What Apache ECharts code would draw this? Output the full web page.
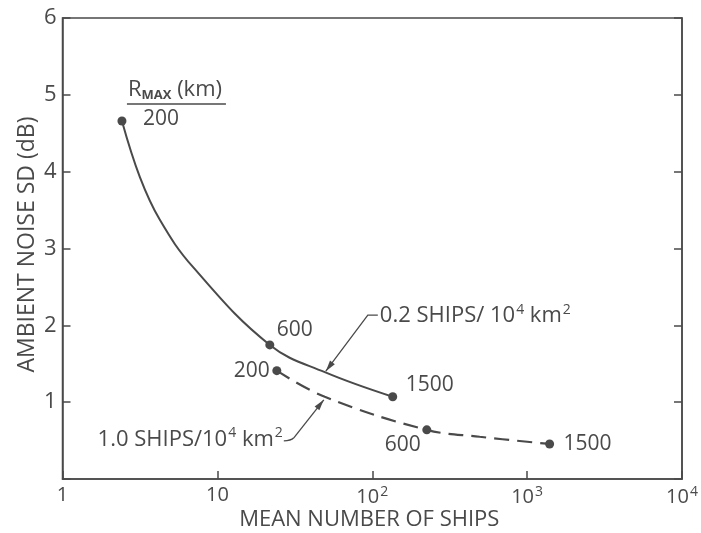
<!DOCTYPE html>
<html>
<head>
<meta charset="utf-8">
<script src="https://cdn.jsdelivr.net/npm/echarts@6/dist/echarts.min.js"></script>
<style>
  html, body { margin: 0; padding: 0; background: #fff; }
  #chart { width: 701px; height: 533px; }
</style>
</head>
<body>
<div id="chart"></div>
<script>
// Maximum range R_MAX (km) for each plotted point
const rmaxLabels = ['200', '600', '1500'];

// 0.2 ships / 10^4 km^2 (solid curve)
const lowDensityShips = [2.42, 21.8, 135.6];
const lowDensitySD = [4.66, 1.745, 1.07];
const lowCurveShips = [2.42, 3.16, 4.26, 6.95, 21.8, 49.4, 135.6];
const lowCurveSD = [4.66, 3.93, 3.37, 2.76, 1.745, 1.39, 1.07];

// 1.0 ships / 10^4 km^2 (dashed curve)
const highDensityShips = [24.2, 225, 1397];
const highDensitySD = [1.41, 0.64, 0.456];
const highCurveShips = [24.2, 49.4, 225, 494, 1397];
const highCurveSD = [1.41, 1.07, 0.64, 0.55, 0.456];

// Axis tick labels and titles
const xTickValues = [1, 10, 100, 1000, 10000];
const xTickLabels = ['{b|1}', '{b|10}', '{b|10}{s|2}', '{b|10}{s|3}', '{b|10}{s|4}'];
const yTickLabels = ['', '1', '2', '3', '4', '5', '6'];
const xTitle = 'MEAN NUMBER OF SHIPS';
const yTitle = 'AMBIENT NOISE SD (dB)';

const INK = '#4a4a4a';
const FONT = '"Open Sans", Lato, sans-serif';
const FS = 22;

const zip = (xs, ys) => xs.map((x, i) => [x, ys[i]]);

const lowLabelOffsets = [[39, -2], [25, -15], [37, -12]];
const highLabelOffsets = [[-25, 0], [-24, 15], [38, 0]];

function pointData(xs, ys, offsets) {
  return xs.map((x, i) => ({
    value: [x, ys[i]],
    label: {
      show: true, position: 'inside', offset: offsets[i], formatter: rmaxLabels[i],
      color: INK, fontFamily: FONT, fontSize: FS - 1
    }
  }));
}

const chart = echarts.init(document.getElementById('chart'), null, { renderer: 'canvas' });

chart.setOption({
  animation: false,
  backgroundColor: '#fff',
  grid: {
    left: 62.5, right: 19, top: 18, bottom: 54,
    outerBoundsMode: 'none',
    show: true, borderColor: INK, borderWidth: 1.5, backgroundColor: 'transparent'
  },
  xAxis: {
    type: 'log', logBase: 10, min: 1, max: 10000,
    axisLine: { show: true, lineStyle: { color: INK, width: 1.5 } },
    axisTick: { show: true, inside: true, length: 8, lineStyle: { color: INK, width: 1.5 } },
    minorTick: { show: false },
    splitLine: { show: false },
    axisLabel: {
      margin: 6,
      formatter: v => xTickLabels[xTickValues.indexOf(Math.round(v))] || '',
      rich: {
        b: { color: INK, fontFamily: FONT, fontSize: 20 },
        s: { color: INK, fontFamily: FONT, fontSize: 14, padding: [0, 0, 11, 1] }
      }
    }
  },
  yAxis: [
    {
      type: 'value', min: 0, max: 6, interval: 1,
      axisLine: { show: true, lineStyle: { color: INK, width: 1.5 } },
      axisTick: { show: true, inside: true, length: 8, lineStyle: { color: INK, width: 1.5 } },
      splitLine: { show: false },
      axisLabel: {
        margin: 6, color: INK, fontFamily: FONT, fontSize: 22,
        formatter: v => yTickLabels[Math.round(v)]
      }
    },
    {
      type: 'value', min: 0, max: 6, interval: 1, position: 'right',
      axisLine: { show: true, lineStyle: { color: INK, width: 1.5 } },
      axisTick: { show: true, inside: true, length: 8, lineStyle: { color: INK, width: 1.5 } },
      splitLine: { show: false },
      axisLabel: { show: false }
    }
  ],
  series: [
    {
      type: 'line', name: '0.2 ships curve', data: zip(lowCurveShips, lowCurveSD),
      smooth: 0.4, showSymbol: false, silent: true,
      lineStyle: { color: INK, width: 2 }
    },
    {
      type: 'line', name: '1.0 ships curve', data: zip(highCurveShips, highCurveSD),
      smooth: 0.4, showSymbol: false, silent: true,
      lineStyle: { color: INK, width: 2.2, type: [15, 8] }
    },
    {
      type: 'scatter', name: '0.2 ships points', symbolSize: 9,
      itemStyle: { color: INK, opacity: 1 },
      data: pointData(lowDensityShips, lowDensitySD, lowLabelOffsets)
    },
    {
      type: 'scatter', name: '1.0 ships points', symbolSize: 9,
      itemStyle: { color: INK, opacity: 1 },
      data: pointData(highDensityShips, highDensitySD, highLabelOffsets)
    }
  ]
});

// Annotations: axis titles, R_MAX heading and the two arrowed curve labels
function toPx(x, y) {
  return chart.convertToPixel({ xAxisIndex: 0, yAxisIndex: 0 }, [x, y]);
}

function arrowHead(tip, from, len, half) {
  const dx = tip[0] - from[0], dy = tip[1] - from[1];
  const d = Math.hypot(dx, dy);
  const ux = dx / d, uy = dy / d;
  const bx = tip[0] - ux * len, by = tip[1] - uy * len;
  return {
    type: 'polygon', silent: true,
    shape: { points: [tip, [bx - uy * half, by + ux * half], [bx + uy * half, by - ux * half]] },
    style: { fill: INK }
  };
}

const curveRich = {
  t: { fill: INK, fontFamily: FONT, fontSize: FS },
  s: { fill: INK, fontFamily: FONT, fontSize: 14, padding: [0, 0, 13, 1] }
};

const origin = toPx(1, 0);
const topLeft = toPx(1, 6);
const bottomRight = toPx(10000, 0);
const head = toPx(lowDensityShips[0], lowDensitySD[0]);
const lowTip = toPx(lowCurveShips[5], lowCurveSD[5]);
const highTip = toPx(highCurveShips[1], highCurveSD[1]);

const lowTipP = [lowTip[0] + 1, lowTip[1] - 1];
const lowElbow = [lowTip[0] + 43, lowTip[1] - 57];
const lowEnd = [lowElbow[0] + 10, lowElbow[1]];

const highTipP = [highTip[0] - 1, highTip[1] + 3];
const highBend = [highTip[0] - 31, highTip[1] + 41];
const highEnd = [highTip[0] - 41, highTip[1] + 44];

chart.setOption({
  graphic: [
    {
      type: 'text', silent: true,
      x: (origin[0] + bottomRight[0]) / 2 - 3, y: origin[1] + 41,
      style: {
        text: xTitle, fill: INK, fontFamily: FONT, fontSize: 22,
        align: 'center', verticalAlign: 'middle'
      }
    },
    {
      type: 'text', silent: true,
      x: origin[0] - 35, y: (origin[1] + topLeft[1]) / 2 - 4, rotation: Math.PI / 2,
      style: {
        text: yTitle, fill: INK, fontFamily: FONT, fontSize: 23,
        align: 'center', verticalAlign: 'middle'
      }
    },
    {
      type: 'text', silent: true, x: head[0] + 6, y: head[1] - 31,
      style: {
        text: '{r|R}{m|MAX}{r| (km)}',
        verticalAlign: 'middle',
        rich: {
          r: { fill: INK, fontFamily: FONT, fontSize: FS },
          m: { fill: INK, fontFamily: FONT, fontSize: 13, fontWeight: 'bold', padding: [10, 0, 0, 0] }
        }
      }
    },
    {
      type: 'line', silent: true,
      shape: { x1: head[0] + 5, y1: head[1] - 17, x2: head[0] + 104, y2: head[1] - 17 },
      style: { stroke: INK, lineWidth: 1.5 }
    },
    {
      type: 'polyline', silent: true,
      shape: { points: [lowEnd, lowElbow, lowTipP] },
      style: { stroke: INK, lineWidth: 1.3, fill: null }
    },
    arrowHead(lowTipP, lowElbow, 11, 3),
    {
      type: 'text', silent: true, x: lowEnd[0] + 2, y: lowEnd[1] + 1,
      style: {
        text: '{t|0.2 SHIPS/ 10}{s|4}{t| km}{s|2}',
        verticalAlign: 'middle', rich: curveRich
      }
    },
    {
      type: 'bezierCurve', silent: true,
      shape: {
        x1: highEnd[0], y1: highEnd[1],
        cpx1: highBend[0] - 3, cpy1: highBend[1] + 3,
        cpx2: highBend[0], cpy2: highBend[1],
        x2: highBend[0], y2: highBend[1]
      },
      style: { stroke: INK, lineWidth: 1.3, fill: null }
    },
    {
      type: 'line', silent: true,
      shape: { x1: highBend[0], y1: highBend[1], x2: highTipP[0], y2: highTipP[1] },
      style: { stroke: INK, lineWidth: 1.3 }
    },
    arrowHead(highTipP, highBend, 11, 3),
    {
      type: 'text', silent: true, x: highEnd[0] - 1, y: highEnd[1] - 1,
      style: {
        text: '{t|1.0 SHIPS/10}{s|4}{t| km}{s|2}',
        align: 'right', verticalAlign: 'middle', rich: curveRich
      }
    }
  ]
});
</script>
</body>
</html>
